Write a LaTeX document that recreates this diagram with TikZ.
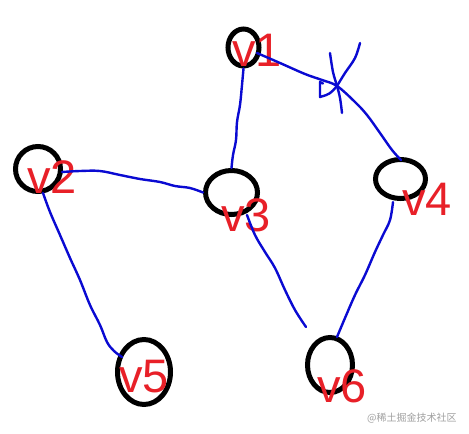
\documentclass[tikz,border=0pt]{standalone}
\usepackage{fontspec}
\setmainfont{Liberation Sans}
\newfontfamily\cjkfont{Noto Sans CJK SC}
\usetikzlibrary{shapes.geometric}
\definecolor{vred}{RGB}{232,32,40}
\definecolor{eblue}{RGB}{10,10,210}
\definecolor{wgrey}{RGB}{160,160,160}
\tikzset{
  vcirc/.style={draw=black, line width=5pt, ellipse, inner sep=0pt},
  vlabel/.style={text=vred, font=\fontsize{47}{47}\selectfont, anchor=base west, inner sep=0pt},
  edgeline/.style={draw=eblue, line width=2.4pt, line cap=round, line join=round},
}
\begin{document}
\begin{tikzpicture}[x=1pt,y=-1pt]
\useasboundingbox (0,0) rectangle (469,434);
\fill[white] (0,0) rectangle (469,434);

% vertex circles
\node[vcirc, minimum width=31pt, minimum height=37pt] (v1) at (243.5,47.5) {};
\node[vcirc, minimum width=45pt, minimum height=45pt] (v2) at (38,169) {};
\node[vcirc, minimum width=52pt, minimum height=44pt] (v3) at (231.5,192.5) {};
\node[vcirc, minimum width=50pt, minimum height=39pt] (v4) at (400.5,179) {};
\node[vcirc, minimum width=53pt, minimum height=65pt] (v5) at (144,372) {};
\node[vcirc, minimum width=45pt, minimum height=55pt] (v6) at (330,365) {};

% labels
\node[vlabel] (t1) at (232,66) {v1};
\node[vlabel] (t2) at (27,193) {v2};
\node[vlabel] (t3) at (221,231) {v3};
\node[vlabel] (t4) at (402,215) {v4};
\node[vlabel] (t5) at (119,392) {v5};
\node[vlabel] (t6) at (317,402) {v6};

% free ends
\coordinate (e36) at (306,327);
\coordinate (xa1) at (360,43);
\coordinate (xa2) at (337,86);
\coordinate (xb1) at (330,53);
\coordinate (xb2) at (342,113);
\coordinate (xf1) at (320,97);
\coordinate (xf2) at (320,82);

% edges
\draw[edgeline] plot[smooth, tension=0.6] coordinates {(v1.south) (242,85) (240,105) (237,122) (236,140) (233,155) (v3.north)};
\draw[edgeline] plot[smooth, tension=0.6] coordinates {(257,53) (280,63) (305,74) (322,80) (337,86) (355,102) (367,115) (380,133) (392,150) (401,160)};
\draw[edgeline] plot[smooth, tension=0.6] coordinates {(62,172) (80,171) (100,171) (120,175) (140,179) (160,182) (175,186) (190,188) (v3.west)};
\draw[edgeline] plot[smooth, tension=0.6] coordinates {(43,193) (50,212) (60,235) (70,258) (80,280) (90,305) (100,325) (107,342) (114,351) (122,357)};
\draw[edgeline] plot[smooth, tension=0.6] coordinates {(247,215) (255,235) (265,252) (275,268) (285,290) (295,310) (e36)};
\draw[edgeline] plot[smooth, tension=0.6] coordinates {(393,202) (390,220) (383,235) (375,252) (365,275) (355,295) (345,318) (337,337)};

% cross mark
\draw[edgeline] plot[smooth, tension=0.6] coordinates {(xa1) (355,58) (345,73) (xa2)};
\draw[edgeline] plot[smooth, tension=0.6] coordinates {(xb1) (333,72) (xa2) (340,98) (xb2)};
\draw[edgeline] (xa2) .. controls (330,94) .. (xf1) -- (xf2) -- (323,83.5);

% watermark
\node[text=wgrey, font=\cjkfont\fontsize{10}{10}\selectfont, anchor=base west, inner sep=0pt] (wm) at (367,421) {@稀土掘金技术社区};
\end{tikzpicture}
\end{document}
